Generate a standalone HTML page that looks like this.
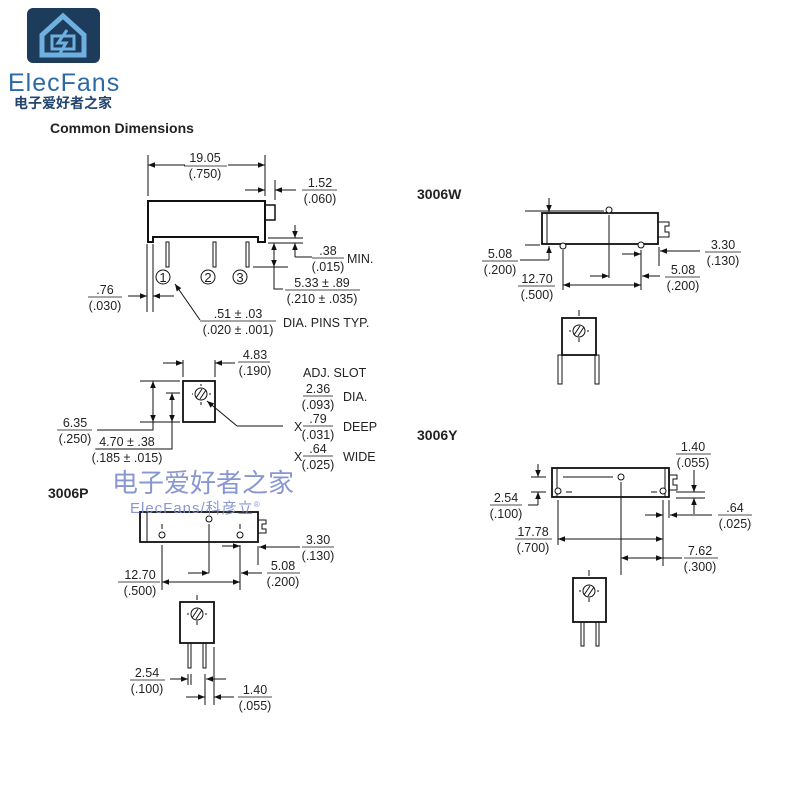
<!DOCTYPE html>
<html><head><meta charset="utf-8"><style>
html,body{margin:0;padding:0;background:#fff;}
svg{display:block;}
text{font-family:"Liberation Sans","Noto Sans CJK SC",sans-serif;fill:#222;}
.d{font-size:12.5px;text-anchor:middle;}
.l{font-size:12.5px;}
</style></head><body>
<svg width="800" height="800" viewBox="0 0 800 800" xmlns="http://www.w3.org/2000/svg">
<defs>
<marker id="a" viewBox="0 0 10 10" refX="10" refY="5" markerWidth="9" markerHeight="7" markerUnits="userSpaceOnUse" orient="auto"><path d="M0,1 L10,5 L0,9 z" fill="#111"/></marker>
</defs>
<!-- logo -->
<rect x="27" y="8" width="73" height="55" rx="6" fill="#1d3c5c"/>
<path d="M42,35 L63,16 L84,35 L84,55 L42,55 Z" fill="none" stroke="#6fb0e0" stroke-width="5"/>
<rect x="52" y="36" width="22" height="13" fill="none" stroke="#6fb0e0" stroke-width="3"/>
<path d="M67,30 L58,43 L66,43 L59,55" fill="none" stroke="#6fb0e0" stroke-width="3"/>
<text x="8" y="91" style="font-size:25px;fill:#2c6aa6;letter-spacing:1px">ElecFans</text>
<text x="14" y="108" style="font-size:14px;fill:#23456e;font-weight:bold">电子爱好者之家</text>
<text x="50" y="133" style="font-size:14px;font-weight:bold">Common Dimensions</text>

<g stroke="#111" fill="none" stroke-width="1">
<!-- top view -->
<path d="M148,237 L148,201 L265,201 L265,242 L258,242 L258,237 L153,237 L153,242 L148,242 Z" stroke-width="2"/>
<rect x="265" y="205" width="10" height="15" stroke-width="1.5"/>
<rect x="166" y="242" width="3" height="25"/><rect x="213" y="242" width="3" height="25"/><rect x="246" y="242" width="3" height="25"/>
<circle cx="163" cy="277" r="7"/><circle cx="208" cy="277" r="7"/><circle cx="240" cy="277" r="7"/>
<line x1="148" y1="155" x2="148" y2="196"/><line x1="265" y1="155" x2="265" y2="196"/>
<line x1="185" y1="165" x2="148" y2="165" marker-end="url(#a)"/><line x1="228" y1="165" x2="265" y2="165" marker-end="url(#a)"/>
<line x1="275" y1="180" x2="275" y2="200"/>
<line x1="245" y1="190" x2="265" y2="190" marker-end="url(#a)"/><line x1="296" y1="190" x2="275" y2="190" marker-end="url(#a)"/>
<line x1="268" y1="238" x2="303" y2="238"/><line x1="268" y1="243" x2="303" y2="243"/>
<line x1="295" y1="225" x2="295" y2="238" marker-end="url(#a)"/><path d="M295,257 L295,243" marker-end="url(#a)"/>
<line x1="295" y1="257" x2="312" y2="257"/>
<line x1="253" y1="267" x2="288" y2="267"/>
<line x1="274" y1="255" x2="274" y2="243" marker-end="url(#a)"/><line x1="274" y1="255" x2="274" y2="267" marker-end="url(#a)"/>
<polyline points="274,267 274,289 283,289"/>
<line x1="147" y1="244" x2="147" y2="312"/><line x1="153" y1="244" x2="153" y2="312"/>
<line x1="128" y1="296" x2="147" y2="296" marker-end="url(#a)"/><line x1="174" y1="296" x2="153" y2="296" marker-end="url(#a)"/>
<path d="M200,320 L175,284" marker-end="url(#a)"/>
<!-- side view P -->
<rect x="183" y="381" width="32" height="41" stroke-width="1.8"/>
<circle cx="201" cy="394" r="6"/>
<line x1="196" y1="398" x2="202" y2="389"/><line x1="200" y1="399" x2="206" y2="390"/>
<line x1="201" y1="384" x2="201" y2="386"/><line x1="201" y1="402" x2="201" y2="405"/><line x1="192" y1="394" x2="193" y2="394"/><line x1="209" y1="394" x2="211" y2="394"/>
<line x1="183" y1="360" x2="183" y2="377"/><line x1="215" y1="360" x2="215" y2="377"/>
<line x1="163" y1="363" x2="183" y2="363" marker-end="url(#a)"/><line x1="235" y1="363" x2="215" y2="363" marker-end="url(#a)"/>
<line x1="140" y1="381" x2="180" y2="381"/><line x1="140" y1="422" x2="180" y2="422"/>
<line x1="153" y1="400" x2="153" y2="381" marker-end="url(#a)"/><line x1="153" y1="400" x2="153" y2="422" marker-end="url(#a)"/>
<polyline points="153,422 153,430 97,430"/>
<line x1="166" y1="393" x2="180" y2="393"/>
<line x1="172" y1="408" x2="172" y2="393" marker-end="url(#a)"/><line x1="172" y1="408" x2="172" y2="422" marker-end="url(#a)"/>
<polyline points="172,422 172,449 96,449"/>
<path d="M237,426 L207,401" marker-end="url(#a)"/><line x1="237" y1="426" x2="283" y2="426"/>
<!-- 3006P -->
<rect x="140" y="512" width="118" height="30" stroke-width="1.8"/>
<line x1="147" y1="512" x2="147" y2="542"/>
<path d="M258,520 L266,520 L266,524 L262,524 L262,529 L266,529 L266,533 L258,533"/>
<circle cx="162" cy="535" r="3"/><circle cx="209" cy="519" r="3"/><circle cx="240" cy="535" r="3"/>
<line x1="162" y1="524" x2="162" y2="529"/><line x1="240" y1="524" x2="240" y2="529"/>
<line x1="209" y1="524" x2="209" y2="573"/>
<line x1="162" y1="545" x2="162" y2="590"/><line x1="240" y1="545" x2="240" y2="590"/>
<line x1="258" y1="546" x2="258" y2="565"/>
<line x1="300" y1="547" x2="259" y2="547" marker-end="url(#a)"/>
<line x1="222" y1="546" x2="240" y2="546" marker-end="url(#a)"/>
<line x1="262" y1="573" x2="241" y2="573" marker-end="url(#a)"/>
<line x1="188" y1="573" x2="209" y2="573" marker-end="url(#a)"/>
<line x1="200" y1="582" x2="162" y2="582" marker-end="url(#a)"/><line x1="200" y1="582" x2="240" y2="582" marker-end="url(#a)"/>
<line x1="197" y1="595" x2="197" y2="600"/>
<rect x="180" y="602" width="34" height="41" stroke-width="1.8"/>
<circle cx="197" cy="614" r="6"/><line x1="192" y1="618" x2="198" y2="609"/><line x1="196" y1="619" x2="202" y2="610"/>
<line x1="197" y1="621" x2="197" y2="625"/><line x1="187" y1="614" x2="189" y2="614"/><line x1="205" y1="614" x2="207" y2="614"/>
<rect x="188" y="643" width="3" height="25"/><rect x="203" y="643" width="3" height="25"/>
<line x1="214" y1="647" x2="214" y2="705"/><line x1="205" y1="674" x2="205" y2="705"/><line x1="191" y1="674" x2="191" y2="685"/><line x1="188" y1="674" x2="188" y2="685"/>
<line x1="170" y1="679" x2="188" y2="679" marker-end="url(#a)"/><line x1="226" y1="679" x2="206" y2="679" marker-end="url(#a)"/>
<line x1="186" y1="697" x2="205" y2="697" marker-end="url(#a)"/><line x1="234" y1="697" x2="214" y2="697" marker-end="url(#a)"/>
<!-- 3006W -->
<rect x="542" y="213" width="116" height="31" stroke-width="1.8"/>
<line x1="547" y1="213" x2="547" y2="244"/>
<path d="M658,222 L669,222 L669,226 L665,226 L665,232 L669,232 L669,237 L658,237"/>
<circle cx="609" cy="210" r="3" fill="#fff"/><circle cx="563" cy="246" r="3" fill="#fff"/><circle cx="641" cy="245" r="3" fill="#fff"/>
<line x1="525" y1="211" x2="604" y2="211"/><line x1="525" y1="245" x2="540" y2="245"/>
<line x1="549" y1="198" x2="549" y2="212" marker-end="url(#a)"/><path d="M549,260 L549,246" marker-end="url(#a)"/>
<line x1="549" y1="260" x2="520" y2="260"/>
<line x1="609" y1="215" x2="609" y2="278"/>
<line x1="563" y1="250" x2="563" y2="290"/><line x1="641" y1="250" x2="641" y2="290"/>
<line x1="659" y1="247" x2="659" y2="266"/>
<line x1="700" y1="251" x2="660" y2="251" marker-end="url(#a)"/>
<line x1="622" y1="254" x2="641" y2="254" marker-end="url(#a)"/>
<line x1="660" y1="276" x2="642" y2="276" marker-end="url(#a)"/>
<line x1="590" y1="276" x2="609" y2="276" marker-end="url(#a)"/>
<line x1="600" y1="285" x2="563" y2="285" marker-end="url(#a)"/><line x1="600" y1="285" x2="641" y2="285" marker-end="url(#a)"/>
<line x1="579" y1="310" x2="579" y2="316"/>
<rect x="562" y="318" width="34" height="37" stroke-width="1.8"/>
<circle cx="579" cy="331" r="6"/><line x1="574" y1="335" x2="580" y2="326"/><line x1="578" y1="336" x2="584" y2="327"/>
<line x1="579" y1="338" x2="579" y2="342"/><line x1="569" y1="331" x2="571" y2="331"/><line x1="587" y1="331" x2="589" y2="331"/>
<rect x="558" y="355" width="4" height="29"/><rect x="595" y="355" width="4" height="29"/>
<!-- 3006Y -->
<rect x="552" y="468" width="117" height="29" stroke-width="1.8"/>
<line x1="557" y1="468" x2="557" y2="497"/><line x1="665" y1="468" x2="665" y2="497"/>
<path d="M669,475 L677,475 L677,479 L673,479 L673,485 L677,485 L677,490 L669,490"/>
<circle cx="558" cy="491" r="3" fill="#fff"/><circle cx="621" cy="477" r="3" fill="#fff"/><circle cx="663" cy="491" r="3" fill="#fff"/>
<line x1="563" y1="477" x2="613" y2="477"/><line x1="566" y1="492" x2="572" y2="492"/><line x1="651" y1="492" x2="657" y2="492"/>
<line x1="531" y1="477" x2="546" y2="477"/><line x1="531" y1="492" x2="546" y2="492"/>
<line x1="538" y1="464" x2="538" y2="477" marker-end="url(#a)"/><line x1="538" y1="505" x2="538" y2="492" marker-end="url(#a)"/>
<line x1="538" y1="505" x2="528" y2="505"/>
<line x1="558" y1="500" x2="558" y2="545"/><line x1="663" y1="500" x2="663" y2="566"/><line x1="669" y1="500" x2="669" y2="518"/>
<line x1="621" y1="482" x2="621" y2="575"/>
<line x1="676" y1="492" x2="705" y2="492"/><line x1="676" y1="498" x2="705" y2="498"/>
<line x1="694" y1="470" x2="694" y2="492" marker-end="url(#a)"/><line x1="694" y1="514" x2="694" y2="498" marker-end="url(#a)"/>
<line x1="645" y1="515" x2="663" y2="515" marker-end="url(#a)"/><line x1="712" y1="515" x2="670" y2="515" marker-end="url(#a)"/>
<line x1="610" y1="539" x2="558" y2="539" marker-end="url(#a)"/><line x1="610" y1="539" x2="663" y2="539" marker-end="url(#a)"/>
<line x1="640" y1="558" x2="621" y2="558" marker-end="url(#a)"/><line x1="640" y1="558" x2="663" y2="558" marker-end="url(#a)"/>
<line x1="663" y1="558" x2="682" y2="558"/>
<line x1="589" y1="570" x2="589" y2="576"/>
<rect x="573" y="578" width="33" height="44" stroke-width="1.8"/>
<circle cx="589" cy="591" r="6"/><line x1="584" y1="595" x2="590" y2="586"/><line x1="588" y1="596" x2="594" y2="587"/>
<line x1="589" y1="598" x2="589" y2="602"/><line x1="579" y1="591" x2="581" y2="591"/><line x1="597" y1="591" x2="599" y2="591"/>
<rect x="581" y="622" width="3" height="24"/><rect x="596" y="622" width="3" height="24"/>
</g>
<g stroke="#111" stroke-width="0.8">
<line x1="184" y1="166" x2="227" y2="166"/><line x1="302" y1="190" x2="337" y2="190"/>
<line x1="312" y1="258" x2="344" y2="258"/><line x1="285" y1="290" x2="360" y2="290"/>
<line x1="200" y1="321" x2="276" y2="321"/><line x1="88" y1="297" x2="122" y2="297"/>
<line x1="238" y1="362" x2="270" y2="362"/><line x1="303" y1="396" x2="333" y2="396"/>
<line x1="303" y1="426" x2="333" y2="426"/><line x1="303" y1="456" x2="333" y2="456"/>
<line x1="57" y1="430" x2="92" y2="430"/><line x1="95" y1="449" x2="160" y2="449"/>
<line x1="302" y1="547" x2="334" y2="547"/><line x1="267" y1="573" x2="300" y2="573"/>
<line x1="118" y1="582" x2="160" y2="582"/><line x1="130" y1="680" x2="165" y2="680"/>
<line x1="238" y1="697" x2="272" y2="697"/>
<line x1="482" y1="261" x2="518" y2="261"/><line x1="705" y1="252" x2="741" y2="252"/>
<line x1="665" y1="277" x2="700" y2="277"/><line x1="518" y1="286" x2="555" y2="286"/>
<line x1="676" y1="454" x2="711" y2="454"/><line x1="718" y1="515" x2="752" y2="515"/>
<line x1="490" y1="505" x2="522" y2="505"/><line x1="515" y1="539" x2="552" y2="539"/>
<line x1="684" y1="558" x2="718" y2="558"/>
</g>
<g>
<text x="163" y="282" class="d" style="font-size:13px">1</text><text x="208" y="282" class="d" style="font-size:13px">2</text><text x="240" y="282" class="d" style="font-size:13px">3</text>
<text x="205" y="162" class="d">19.05</text><text x="205" y="178" class="d">(.750)</text>
<text x="320" y="187" class="d">1.52</text><text x="320" y="203" class="d">(.060)</text>
<text x="328" y="255" class="d">.38</text><text x="328" y="271" class="d">(.015)</text>
<text x="322" y="287" class="d">5.33 ± .89</text><text x="322" y="303" class="d">(.210 ± .035)</text>
<text x="105" y="294" class="d">.76</text><text x="105" y="310" class="d">(.030)</text>
<text x="238" y="318" class="d">.51 ± .03</text><text x="238" y="334" class="d">(.020 ± .001)</text>
<text x="255" y="359" class="d">4.83</text><text x="255" y="375" class="d">(.190)</text>
<text x="318" y="393" class="d">2.36</text><text x="318" y="409" class="d">(.093)</text>
<text x="318" y="423" class="d">.79</text><text x="318" y="439" class="d">(.031)</text>
<text x="318" y="453" class="d">.64</text><text x="318" y="469" class="d">(.025)</text>
<text x="75" y="427" class="d">6.35</text><text x="75" y="443" class="d">(.250)</text>
<text x="127" y="446" class="d">4.70 ± .38</text><text x="127" y="462" class="d">(.185 ± .015)</text>
<text x="318" y="544" class="d">3.30</text><text x="318" y="560" class="d">(.130)</text>
<text x="283" y="570" class="d">5.08</text><text x="283" y="586" class="d">(.200)</text>
<text x="140" y="579" class="d">12.70</text><text x="140" y="595" class="d">(.500)</text>
<text x="147" y="677" class="d">2.54</text><text x="147" y="693" class="d">(.100)</text>
<text x="255" y="694" class="d">1.40</text><text x="255" y="710" class="d">(.055)</text>
<text x="500" y="258" class="d">5.08</text><text x="500" y="274" class="d">(.200)</text>
<text x="723" y="249" class="d">3.30</text><text x="723" y="265" class="d">(.130)</text>
<text x="683" y="274" class="d">5.08</text><text x="683" y="290" class="d">(.200)</text>
<text x="537" y="283" class="d">12.70</text><text x="537" y="299" class="d">(.500)</text>
<text x="693" y="451" class="d">1.40</text><text x="693" y="467" class="d">(.055)</text>
<text x="735" y="512" class="d">.64</text><text x="735" y="528" class="d">(.025)</text>
<text x="506" y="502" class="d">2.54</text><text x="506" y="518" class="d">(.100)</text>
<text x="533" y="536" class="d">17.78</text><text x="533" y="552" class="d">(.700)</text>
<text x="700" y="555" class="d">7.62</text><text x="700" y="571" class="d">(.300)</text>
</g>
<text x="347" y="263" class="l">MIN.</text>
<text x="283" y="327" class="l">DIA. PINS TYP.</text>
<text x="303" y="377" class="l">ADJ. SLOT</text>
<text x="343" y="401" class="l">DIA.</text>
<text x="294" y="431" class="l">X</text><text x="343" y="431" class="l">DEEP</text>
<text x="294" y="461" class="l">X</text><text x="343" y="461" class="l">WIDE</text>
<text x="48" y="498" style="font-size:14px;font-weight:bold">3006P</text>
<text x="417" y="199" style="font-size:14px;font-weight:bold">3006W</text>
<text x="417" y="440" style="font-size:14px;font-weight:bold">3006Y</text>
<text x="112" y="492" style="font-size:26px;fill:#7d8ccc;opacity:0.9">电子爱好者之家</text>
<text x="130" y="513" style="font-size:15px;fill:#7d8ccc;opacity:0.9;letter-spacing:1px">ElecFans/科彦立<tspan style="font-size:8px" dy="-6">®</tspan></text>
</svg>
</body></html>
